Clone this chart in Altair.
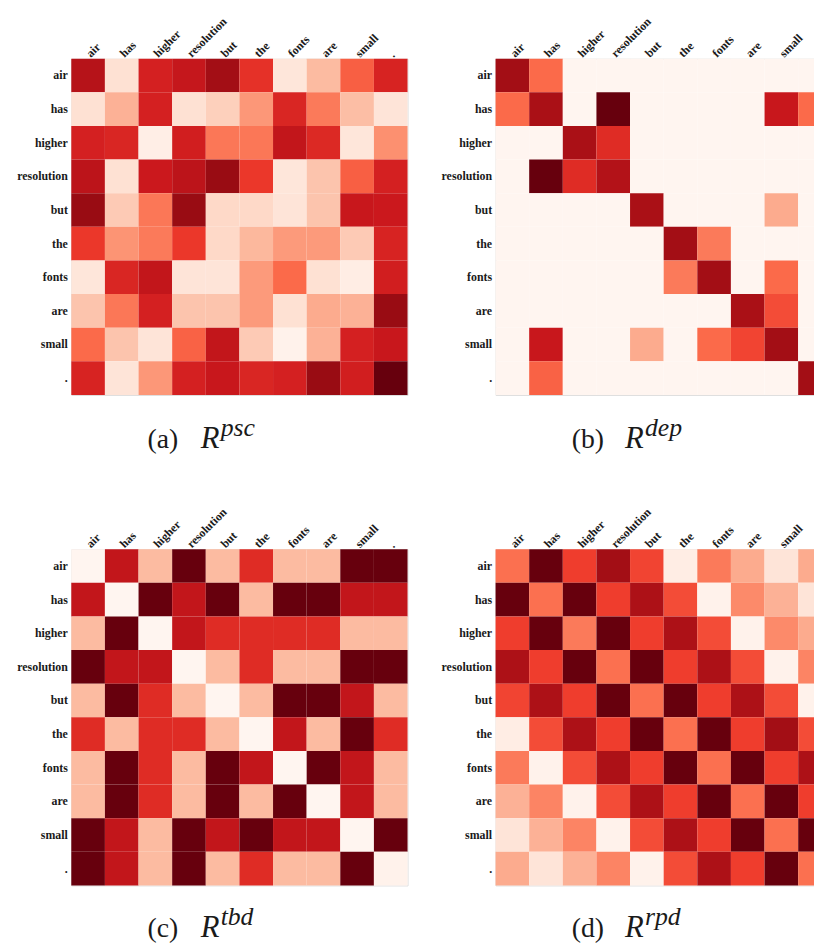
import altair as alt
import pandas as pd

TOKENS = ["air", "has", "higher", "resolution", "but", "the", "fonts", "are", "small", "."]

PSC = [
    [0.82, 0.12, 0.72, 0.77, 0.88, 0.66, 0.09, 0.25, 0.53, 0.71],
    [0.12, 0.28, 0.72, 0.12, 0.18, 0.36, 0.70, 0.45, 0.24, 0.10],
    [0.72, 0.70, 0.04, 0.73, 0.46, 0.46, 0.78, 0.69, 0.09, 0.38],
    [0.80, 0.12, 0.75, 0.80, 0.90, 0.64, 0.09, 0.22, 0.53, 0.72],
    [0.90, 0.20, 0.46, 0.90, 0.15, 0.15, 0.10, 0.22, 0.76, 0.75],
    [0.64, 0.37, 0.45, 0.64, 0.15, 0.26, 0.35, 0.35, 0.20, 0.71],
    [0.09, 0.70, 0.78, 0.10, 0.10, 0.35, 0.50, 0.12, 0.05, 0.73],
    [0.22, 0.46, 0.72, 0.22, 0.22, 0.35, 0.12, 0.30, 0.28, 0.90],
    [0.50, 0.22, 0.10, 0.52, 0.78, 0.20, 0.02, 0.28, 0.72, 0.76],
    [0.71, 0.10, 0.36, 0.72, 0.76, 0.70, 0.72, 0.90, 0.73, 1.00],
]

DEP = [
    [0.88, 0.50, 0.00, 0.00, 0.00, 0.00, 0.00, 0.00, 0.00, 0.00],
    [0.50, 0.86, 0.00, 1.00, 0.00, 0.00, 0.00, 0.00, 0.76, 0.50],
    [0.00, 0.00, 0.86, 0.68, 0.00, 0.00, 0.00, 0.00, 0.00, 0.00],
    [0.00, 1.00, 0.68, 0.83, 0.00, 0.00, 0.00, 0.00, 0.00, 0.00],
    [0.00, 0.00, 0.00, 0.00, 0.86, 0.00, 0.00, 0.00, 0.30, 0.00],
    [0.00, 0.00, 0.00, 0.00, 0.00, 0.88, 0.45, 0.00, 0.00, 0.00],
    [0.00, 0.00, 0.00, 0.00, 0.00, 0.45, 0.88, 0.00, 0.50, 0.00],
    [0.00, 0.00, 0.00, 0.00, 0.00, 0.00, 0.00, 0.86, 0.58, 0.00],
    [0.00, 0.76, 0.00, 0.00, 0.30, 0.00, 0.50, 0.60, 0.88, 0.00],
    [0.00, 0.52, 0.00, 0.00, 0.00, 0.00, 0.00, 0.00, 0.00, 0.88],
]

TBD = [
    [0.00, 0.78, 0.25, 1.00, 0.25, 0.68, 0.25, 0.25, 1.00, 1.00],
    [0.78, 0.00, 1.00, 0.78, 1.00, 0.25, 1.00, 1.00, 0.78, 0.78],
    [0.25, 1.00, 0.00, 0.78, 0.68, 0.68, 0.68, 0.68, 0.25, 0.25],
    [1.00, 0.78, 0.78, 0.00, 0.25, 0.68, 0.25, 0.25, 1.00, 1.00],
    [0.25, 1.00, 0.68, 0.25, 0.00, 0.25, 1.00, 1.00, 0.78, 0.25],
    [0.68, 0.25, 0.68, 0.68, 0.25, 0.00, 0.78, 0.25, 1.00, 0.68],
    [0.25, 1.00, 0.68, 0.25, 1.00, 0.78, 0.00, 1.00, 0.78, 0.25],
    [0.25, 1.00, 0.68, 0.25, 1.00, 0.25, 1.00, 0.00, 0.78, 0.25],
    [1.00, 0.78, 0.25, 1.00, 0.78, 1.00, 0.78, 0.78, 0.00, 1.00],
    [1.00, 0.78, 0.25, 1.00, 0.25, 0.68, 0.25, 0.25, 1.00, 0.02],
]

RPD = [
    [0.48, 1.00, 0.62, 0.88, 0.60, 0.05, 0.45, 0.30, 0.10, 0.30],
    [1.00, 0.48, 1.00, 0.62, 0.85, 0.58, 0.02, 0.40, 0.28, 0.10],
    [0.62, 1.00, 0.45, 1.00, 0.62, 0.85, 0.58, 0.02, 0.40, 0.30],
    [0.85, 0.62, 1.00, 0.48, 1.00, 0.62, 0.85, 0.58, 0.02, 0.42],
    [0.60, 0.85, 0.62, 1.00, 0.48, 1.00, 0.62, 0.85, 0.58, 0.02],
    [0.05, 0.58, 0.85, 0.62, 1.00, 0.48, 1.00, 0.62, 0.88, 0.58],
    [0.45, 0.02, 0.58, 0.85, 0.62, 1.00, 0.48, 1.00, 0.62, 0.85],
    [0.28, 0.42, 0.02, 0.58, 0.85, 0.62, 1.00, 0.48, 1.00, 0.62],
    [0.10, 0.28, 0.42, 0.02, 0.58, 0.85, 0.62, 1.00, 0.48, 1.00],
    [0.30, 0.10, 0.28, 0.42, 0.02, 0.58, 0.85, 0.62, 1.00, 0.48],
]

CAPTION_LABELS = ["(a)", "(b)", "(c)", "(d)"]
CAPTION_SUPS = ["psc", "dep", "tbd", "rpd"]
MATRICES = [PSC, DEP, TBD, RPD]

# matplotlib "Reds" colour stops
REDS = ["#fff5f0", "#fee0d2", "#fcbba1", "#fc9272", "#fb6a4a",
        "#ef3b2c", "#cb181d", "#a50f15", "#67000d"]
STOPS = [i / 8 for i in range(9)]

SERIF = "Liberation Serif, Times New Roman, DejaVu Serif, serif"
INK = "#1a1a1a"


def long_df(mat):
    rows = []
    for i, r in enumerate(TOKENS):
        for j, c in enumerate(TOKENS):
            rows.append({"row": r, "col": c, "v": mat[i][j]})
    return pd.DataFrame(rows)


def panel(mat, label, sup, cap_y):
    heat = alt.Chart(long_df(mat)).mark_rect().encode(
        x=alt.X("col:N", sort=TOKENS, title=None,
                scale=alt.Scale(paddingInner=0, paddingOuter=0),
                axis=alt.Axis(orient="top", labelAngle=-45, labelAlign="left",
                              labelBaseline="middle", ticks=False, domain=False,
                              labelPadding=4, labelFont=SERIF, labelFontWeight="bold",
                              labelFontSize=12, labelColor=INK)),
        y=alt.Y("row:N", sort=TOKENS, title=None,
                scale=alt.Scale(paddingInner=0, paddingOuter=0),
                axis=alt.Axis(orient="left", ticks=False, domain=False,
                              labelPadding=4, labelFont=SERIF, labelFontWeight="bold",
                              labelFontSize=12, labelColor=INK)),
        color=alt.Color("v:Q", scale=alt.Scale(domain=STOPS, range=REDS, interpolate="rgb"),
                        legend=None),
    )
    cap_df = pd.DataFrame({"lab": [label], "sup": [sup], "r": ["R"]})
    t1 = alt.Chart(cap_df).mark_text(align="left", baseline="alphabetic", font=SERIF,
                                     fontSize=28, color=INK).encode(
        text="lab:N", x=alt.value(77), y=alt.value(cap_y))
    t2 = alt.Chart(cap_df).mark_text(align="left", baseline="alphabetic", font=SERIF,
                                     fontSize=31, fontStyle="italic", color=INK).encode(
        text="r:N", x=alt.value(131), y=alt.value(cap_y))
    t3 = alt.Chart(cap_df).mark_text(align="left", baseline="alphabetic", font=SERIF,
                                     fontSize=26, fontStyle="italic", color=INK).encode(
        text="sup:N", x=alt.value(151), y=alt.value(cap_y - 12))
    return alt.layer(heat, t1, t2, t3).properties(width=340, height=340)


CAP_Y = [394, 394, 392, 392]
panels = [panel(m, l, s, y) for m, l, s, y in zip(MATRICES, CAPTION_LABELS, CAPTION_SUPS, CAP_Y)]

chart = alt.concat(*panels, columns=2, spacing={"row": 156, "column": 89},
                   bounds="flush").properties(
    padding={"left": 8, "top": 1, "right": -19, "bottom": 0}
).configure_view(stroke="#c0c0c0", strokeWidth=1).configure(background="white")

chart.save("out.html", embed_options={"renderer": "svg", "actions": False})
